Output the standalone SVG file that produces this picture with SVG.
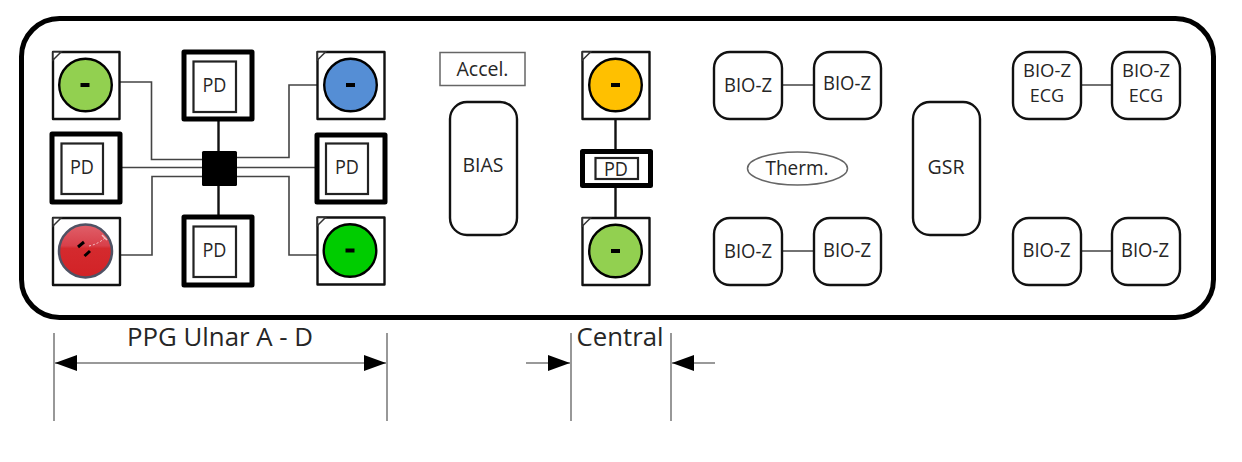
<svg xmlns="http://www.w3.org/2000/svg" width="1242" height="462" viewBox="0 0 1242 462">
<style>
text{font-family:"Open Sans","Noto Sans","Liberation Sans",sans-serif;fill:#262626;text-anchor:middle}
.t{font-size:19.5px}
.t2{font-size:18px}
.big{font-size:26px}
.box{fill:#fff;stroke:#111;stroke-width:2.4;stroke-linejoin:round}
.outerpd{fill:#fff;stroke:#000;stroke-width:5;stroke-linejoin:round}
.innerpd{fill:#fff;stroke:#222;stroke-width:2.2}
.rr{fill:#fff;stroke:#111;stroke-width:2.4}
.led{stroke:#000;stroke-width:2.4}
.dash{fill:#000}
.notch{fill:#fff;stroke:#333;stroke-width:1.5}
.thin{fill:none;stroke:#444;stroke-width:1.6}
.thick{fill:none;stroke:#111;stroke-width:2.4}
.gray{fill:#fff;stroke:#666;stroke-width:1.5}
.dim{fill:none;stroke:#777;stroke-width:1.5}
</style>
<defs>
<marker id="ah" markerUnits="userSpaceOnUse" markerWidth="22" markerHeight="16" refX="22" refY="8" orient="auto-start-reverse"><path d="M0 0L22 8L0 16Z" fill="#000"/></marker>
<linearGradient id="redg" x1="0" y1="0" x2="0" y2="1"><stop offset="0" stop-color="#e0606a"/><stop offset=".4" stop-color="#d8404a"/><stop offset=".45" stop-color="#d42a2e"/><stop offset="1" stop-color="#d22226"/></linearGradient>
</defs>
<rect id="board" x="21.500" y="18.500" width="1192" height="299" rx="38" fill="#fff" stroke="#000" stroke-width="5"/>
<g id="connectors">
<path class="thin" d="M119 82H151.500V159.500H202"/>
<path class="thin" d="M121 167.500H202"/>
<path class="thin" d="M120 255H152V176.500H202"/>
<path class="thin" d="M237 157.500H289V85H317"/>
<path class="thin" d="M237 167.500H316"/>
<path class="thin" d="M237 176.500H289V255H317"/>
<path class="thick" d="M218.500 120V151M218.500 186V216"/>
<path class="thick" d="M615.500 119V150M615.500 187V218"/>
<path class="thin" d="M782 85H814M782 251H814M1081 85H1112M1081 251H1112"/>
</g>
<rect id="hub" x="202" y="151" width="35" height="35" rx="1.500" fill="#000"/>
<g id="led-a">
<rect class="box" x="53" y="52" width="66.500" height="67"/><path class="notch" d="M53 52H61L53 60Z"/>
<circle class="led" cx="85.500" cy="85" r="26.300" fill="#92d050"/><rect class="dash" x="80.500" y="83" width="9" height="4"/>
</g>
<g id="pd-top"><rect class="outerpd" x="184" y="52" width="68" height="67"/><rect class="innerpd" x="193.500" y="61.500" width="42.500" height="50.500"/><text class="t" x="214.500" y="92" textLength="24" lengthAdjust="spacingAndGlyphs">PD</text></g>
<g id="led-blue">
<rect class="box" x="317.500" y="52" width="67" height="67"/><path class="notch" d="M317.500 52H325.500L317.500 60Z"/>
<circle class="led" cx="350.500" cy="85" r="26.300" fill="#558ed5"/><rect class="dash" x="346" y="83" width="9" height="4"/>
</g>
<g id="pd-left"><rect class="outerpd" x="52" y="134" width="68" height="68"/><rect class="innerpd" x="61.500" y="143.500" width="41.500" height="50.500"/><text class="t" x="82" y="174" textLength="24" lengthAdjust="spacingAndGlyphs">PD</text></g>
<g id="pd-right"><rect class="outerpd" x="317" y="135" width="68" height="67"/><rect class="innerpd" x="326" y="143.500" width="42" height="50.500"/><text class="t" x="347" y="174" textLength="24" lengthAdjust="spacingAndGlyphs">PD</text></g>
<g id="led-red">
<rect class="box" x="53" y="218" width="67" height="67"/><path class="notch" d="M53 218H61L53 226Z"/>
<circle cx="85.500" cy="251" r="26.500" fill="url(#redg)" stroke="#4f5264" stroke-width="2.500"/>
<path d="M89 246Q98 244 105 238" fill="none" stroke="#f6c8cc" stroke-width="1" stroke-dasharray="2 2"/>
<path d="M102 235L107 240" stroke="#f3c0c4" stroke-width="1.500"/>
<path d="M78 247L84 242M84.500 256L90 251" stroke="#000" stroke-width="3"/>
</g>
<g id="pd-bottom"><rect class="outerpd" x="184" y="217" width="68" height="68"/><rect class="innerpd" x="193.500" y="226.500" width="42.500" height="50.500"/><text class="t" x="214.500" y="257" textLength="24" lengthAdjust="spacingAndGlyphs">PD</text></g>
<g id="led-green">
<rect class="box" x="317.500" y="217.500" width="67" height="67"/><path class="notch" d="M317.500 217.500H325.500L317.500 225.500Z"/>
<circle class="led" cx="350" cy="250.500" r="26.300" fill="#00cc00"/><rect class="dash" x="345.500" y="248.500" width="9" height="4"/>
</g>
<g id="accel"><rect class="gray" x="440" y="52.500" width="85" height="33"/><text class="t" x="482.500" y="75.500">Accel.</text></g>
<g id="bias"><rect class="rr" x="450" y="102" width="67" height="133" rx="17"/><text class="t" x="483" y="172">BIAS</text></g>
<g id="led-amber">
<rect class="box" x="582.500" y="52" width="67" height="67"/><path class="notch" d="M582.500 52H590.500L582.500 60Z"/>
<circle class="led" cx="615.500" cy="85" r="26.300" fill="#ffc000"/><rect class="dash" x="611" y="83" width="9" height="4"/>
</g>
<g id="pd-center"><rect class="outerpd" x="582.500" y="151.500" width="68" height="34"/><rect class="innerpd" x="595.500" y="158" width="42.500" height="21"/><text class="t" x="616" y="175.500" textLength="24" lengthAdjust="spacingAndGlyphs">PD</text></g>
<g id="led-central-green">
<rect class="box" x="582.500" y="218" width="67" height="67"/><path class="notch" d="M582.500 218H590.500L582.500 226Z"/>
<circle class="led" cx="615.500" cy="251" r="26.300" fill="#92d050"/><rect class="dash" x="611" y="249" width="9" height="4"/>
</g>
<g id="bioz-1"><rect class="rr" x="714" y="52" width="68" height="67" rx="16"/><text class="t" x="748" y="92" textLength="48" lengthAdjust="spacingAndGlyphs">BIO-Z</text></g>
<g id="bioz-2"><rect class="rr" x="814" y="52" width="67" height="67" rx="16"/><text class="t" x="847" y="90" textLength="48" lengthAdjust="spacingAndGlyphs">BIO-Z</text></g>
<g id="bioz-3"><rect class="rr" x="714" y="218" width="68" height="67" rx="16"/><text class="t" x="748" y="258" textLength="48" lengthAdjust="spacingAndGlyphs">BIO-Z</text></g>
<g id="bioz-4"><rect class="rr" x="814" y="218" width="67" height="67" rx="16"/><text class="t" x="847" y="257" textLength="48" lengthAdjust="spacingAndGlyphs">BIO-Z</text></g>
<g id="therm"><ellipse class="gray" cx="797.500" cy="168.500" rx="50" ry="16.500"/><text class="t" x="797" y="174.500" textLength="63" lengthAdjust="spacingAndGlyphs">Therm.</text></g>
<g id="gsr"><rect class="rr" x="913" y="102" width="67" height="133" rx="17"/><text class="t" x="946" y="174">GSR</text></g>
<g id="bioz-ecg-1"><rect class="rr" x="1013" y="52" width="68" height="67" rx="16"/><text class="t2" x="1047" y="77" textLength="48" lengthAdjust="spacingAndGlyphs">BIO-Z</text><text class="t2" x="1047" y="102">ECG</text></g>
<g id="bioz-ecg-2"><rect class="rr" x="1112" y="52" width="68" height="67" rx="16"/><text class="t2" x="1146" y="77" textLength="48" lengthAdjust="spacingAndGlyphs">BIO-Z</text><text class="t2" x="1146" y="102">ECG</text></g>
<g id="bioz-5"><rect class="rr" x="1013" y="218" width="68" height="67" rx="16"/><text class="t" x="1046.500" y="257" textLength="48" lengthAdjust="spacingAndGlyphs">BIO-Z</text></g>
<g id="bioz-6"><rect class="rr" x="1112" y="218" width="68" height="67" rx="16"/><text class="t" x="1145" y="257" textLength="48" lengthAdjust="spacingAndGlyphs">BIO-Z</text></g>
<g id="dimensions">
<path class="dim" d="M54 333V421M387 333V421M571 333V421M671 333V421"/>
<path class="dim" d="M55 363H386" marker-start="url(#ah)" marker-end="url(#ah)"/>
<path class="dim" d="M526 363H570" marker-end="url(#ah)"/>
<path class="dim" d="M715 363H672" marker-end="url(#ah)"/>
<text class="big" x="220" y="346" textLength="186" lengthAdjust="spacingAndGlyphs">PPG Ulnar A - D</text>
<text class="big" x="620" y="346" textLength="87" lengthAdjust="spacingAndGlyphs">Central</text>
</g>
</svg>
